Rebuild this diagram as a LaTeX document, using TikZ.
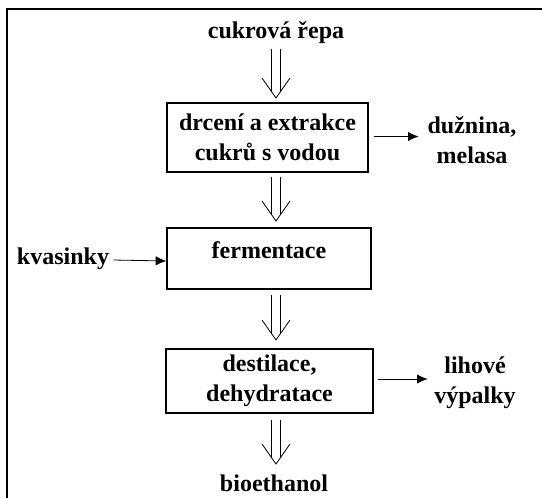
\documentclass[tikz,border=0pt]{standalone}
\usepackage{fontspec}
\setmainfont{Liberation Serif}
\usetikzlibrary{arrows.meta,calc}

% open double arrow pointing down, from coordinate #1 to tip #2
\newcommand\dblarrow[2]{%
  \draw[thinline] ($(#1)+(-4.5,0)$) -- ($(#2)+(-4.5,-6.4)$);
  \draw[thinline] ($(#1)+(4.5,0)$) -- ($(#2)+(4.5,-6.4)$);
  \draw[thinline] ($(#2)+(-14,-20)$) -- (#2) -- ($(#2)+(14,-20)$);
}

\begin{document}
\begin{tikzpicture}[x=0.75pt,y=-0.75pt,
  font=\fontsize{18}{22.5}\selectfont\bfseries,
  thinline/.style={line width=0.6pt},
  stepbox/.style={draw, line width=1pt, align=center, inner sep=0pt},
  lbl/.style={align=center, inner sep=0pt},
  flow/.style={line width=0.6pt, -{Latex[length=8pt,width=7pt]}}]
\useasboundingbox (0,0) rectangle (542,497);

% outer frame (runs off the right and bottom edges)
\begin{scope}
  \clip (0,0) rectangle (542,497);
  \draw[line width=1.3pt] (7,520) -- (7,9) -- (560,9);
\end{scope}

% main process steps
\node[lbl] (beet) at (276,33) {cukrová řepa};
\node[stepbox, minimum width=150.75pt, minimum height=51.75pt] (crush) at (267.5,137.5)
  {drcení a extrakce\\cukrů s vodou};
\node[stepbox, minimum width=153pt, minimum height=45.75pt, text depth=13pt] (ferm) at (269,258.5)
  {fermentace};
\node[stepbox, minimum width=155.25pt, minimum height=48pt] (dist) at (269.5,381)
  {destilace,\\dehydratace};
\node[lbl] (eth) at (274,483) {bioethanol};

% side inputs and outputs
\node[lbl] (pulp) at (472,140) {dužnina,\\melasa};
\node[lbl] (yeast) at (63,259) {kvasinky};
\node[lbl] (stillage) at (475,383) {lihové\\výpalky};

% main flow arrows
\coordinate (a1s) at (276,49);  \coordinate (a1e) at (276,98);
\coordinate (a2s) at (276,177); \coordinate (a2e) at (276,221);
\coordinate (a3s) at (276,295); \coordinate (a3e) at (276,340);
\coordinate (a4s) at (276,420); \coordinate (a4e) at (276,464);
\dblarrow{a1s}{a1e}
\dblarrow{a2s}{a2e}
\dblarrow{a3s}{a3e}
\dblarrow{a4s}{a4e}

% side arrows
\draw[flow] ([xshift=3.75pt,yshift=0.75pt]crush.east) -- ++(45,0);
\draw[flow] (yeast.east) ++(4,1) -- ([yshift=-0.75pt]ferm.west |- 0,260);
\draw[flow] ([xshift=3pt,yshift=1.5pt]dist.east) -- ++(50,0);
\end{tikzpicture}
\end{document}
